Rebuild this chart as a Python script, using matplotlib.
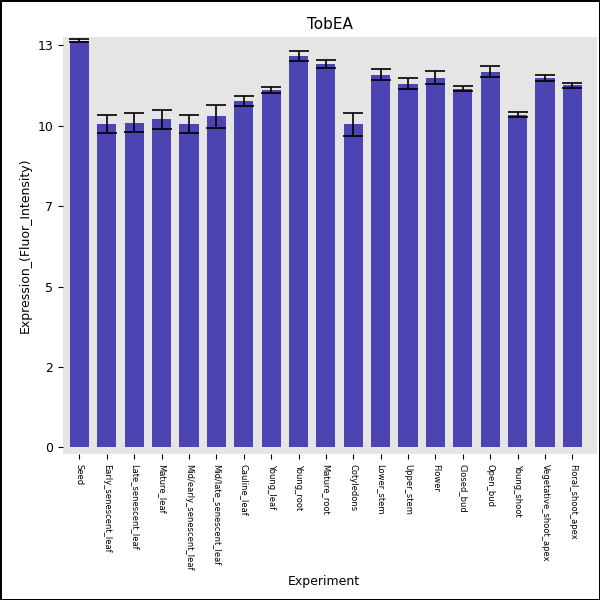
import matplotlib
matplotlib.use("Agg")
from matplotlib import pyplot as plt
from matplotlib.ticker import FuncFormatter, FixedLocator

experiments = ["Seed", "Early_senescent_leaf", "Late_senescent_leaf", "Mature_leaf",
               "Mid/early_senescent_leaf", "Mid/late_senescent_leaf", "Cauline_leaf",
               "Young_leaf", "Young_root", "Mature_root", "Cotyledons", "Lower_stem",
               "Upper_stem", "Flower", "Closed_bud", "Open_bud", "Young_shoot",
               "Vegetative_shoot_apex", "Floral_shoot_apex"]
means = [13.15, 10.45, 10.5, 10.6, 10.45, 10.7, 11.2, 11.55, 12.65, 12.4, 10.45, 12.05,
         11.75, 11.95, 11.6, 12.15, 10.75, 11.95, 11.7]
errors = [0.06, 0.3, 0.32, 0.32, 0.3, 0.37, 0.16, 0.1, 0.16, 0.13, 0.37, 0.18,
          0.18, 0.21, 0.08, 0.18, 0.08, 0.1, 0.08]
y_ticks = [0, 2.6, 5.2, 7.8, 10.4, 13.0]

fig = plt.figure(figsize=(6, 6), dpi=100, edgecolor="black", linewidth=1)
ax = fig.add_axes([0.105, 0.243, 0.89, 0.695])
ax.set_facecolor("#e5e5e5")
x = list(range(len(experiments)))
ax.bar(x, means, width=0.7, color="#4b44b2", zorder=2)
ax.errorbar(x, means, yerr=errors, fmt="none", ecolor="black", capsize=7,
            elinewidth=1.2, capthick=1.2, zorder=3)
ax.set_xlim(-0.6, len(experiments) - 0.1)
ax.set_ylim(-0.22, 13.26)
ax.yaxis.set_major_locator(FixedLocator(y_ticks))
ax.yaxis.set_major_formatter(FuncFormatter(lambda v, p: f"{int(v + 1e-9)}"))
ax.set_xticks(x)
ax.set_xticklabels(experiments, rotation=-90, fontsize=6)
ax.tick_params(axis="y", labelsize=9)
for s in ax.spines.values():
    s.set_visible(False)
ax.set_title("TobEA", fontsize=11)
ax.set_ylabel("Expression_(Fluor_Intensity)", fontsize=9)
fig.text(0.54, 0.025, "Experiment", ha="center", fontsize=9)
fig.savefig("out.png")
